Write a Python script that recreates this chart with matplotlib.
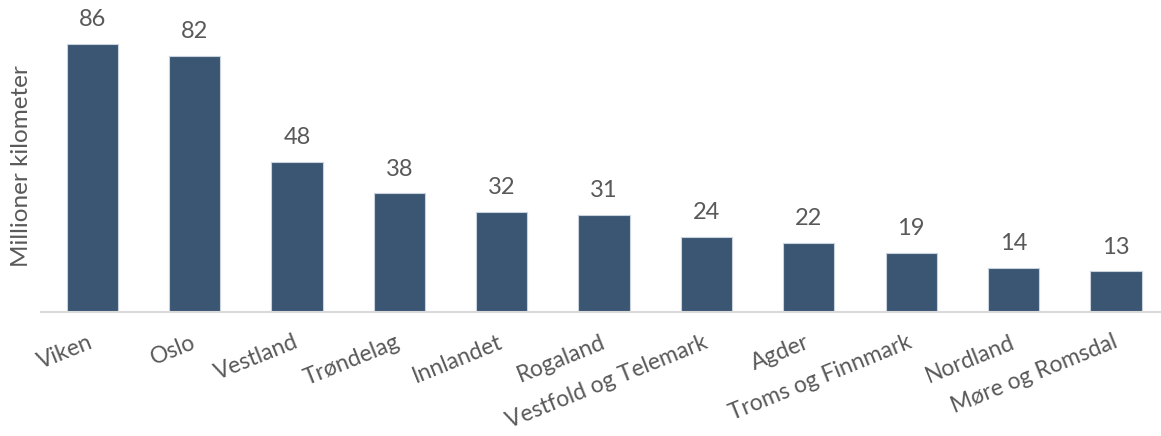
import matplotlib
import matplotlib.pyplot as plt

plt.switch_backend('agg')
plt.rcParams['font.family'] = ['Lato', 'DejaVu Sans']

regioner = ['Viken', 'Oslo', 'Vestland', 'Trøndelag', 'Innlandet', 'Rogaland',
            'Vestfold og Telemark', 'Agder', 'Troms og Finnmark', 'Nordland',
            'Møre og Romsdal']
km = [86, 82, 48, 38, 32, 31, 24, 22, 19, 14, 13]

tekst = '#595959'
bar_farge = '#3A5673'

fig = plt.figure(figsize=(11.61, 4.36), dpi=100)
ax = fig.add_axes([41 / 1161, (436 - 312) / 436, 1120 / 1161, 312 / 436])

x = range(len(regioner))
bars = ax.bar(x, km, width=0.5, color=bar_farge, edgecolor='#C9D3DD', linewidth=0.8, zorder=2)

for b, v in zip(bars, km):
    ax.annotate(str(v), (b.get_x() + b.get_width() / 2, b.get_height()),
                xytext=(0, 10), textcoords='offset points',
                ha='center', va='bottom', fontsize=17, color=tekst)

ax.set_xlim(-0.5, 10.44)
ax.set_ylim(0, 100)
ax.set_xticks(list(x))
ax.set_xticklabels(regioner, rotation=22, ha='right', va='center',
                   rotation_mode='anchor', fontsize=16.5, color=tekst)
ax.tick_params(axis='x', length=0, pad=21)
ax.set_yticks([])

for s in ['top', 'right', 'left']:
    ax.spines[s].set_visible(False)
ax.spines['bottom'].set_color('#D9D9D9')
ax.spines['bottom'].set_linewidth(1.5)

fig.text(22 / 1161, 1 - 166 / 436, 'Millioner kilometer', rotation=90,
         ha='center', va='center', fontsize=17.5, color=tekst)

plt.savefig('out.png', dpi=100)
